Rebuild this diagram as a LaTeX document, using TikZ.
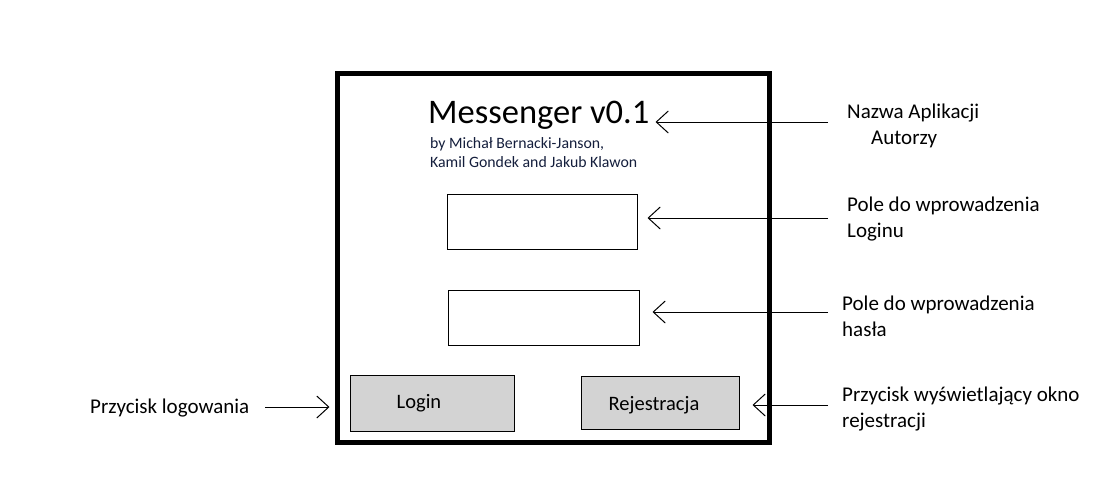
\documentclass[tikz,border=0pt]{standalone}
\usepackage{fontspec}
\setmainfont{Carlito}
\usepackage{xcolor}
\usepackage{tikz}
\usetikzlibrary{arrows.meta, positioning}
\definecolor{buttoncolor}{RGB}{211,211,211}
\definecolor{authorcolor}{RGB}{20,30,60}
\begin{document}
\begin{tikzpicture}[
    x=1pt, y=-1pt,
    field/.style={draw, line width=1pt, inner sep=0pt},
    button/.style={draw, line width=1pt, fill=buttoncolor, inner sep=0pt},
    btntext/.style={font=\fontsize{20.5}{26}\selectfont},
    note/.style={align=left, inner sep=0pt, anchor=base west, font=\fontsize{21}{26}\selectfont},
    arrow/.style={-{Straight Barb[length=12pt, width=22pt]}, line width=1pt}
]
    \useasboundingbox (0,0) rectangle (1108,488);

    % Application window
    \node[draw, line width=5pt, minimum width=432pt, minimum height=369pt, inner sep=0pt] (window) at (553.5,258) {};

    % Title and authors
    \node[anchor=base west, inner sep=0pt, font=\fontsize{34.5}{40}\selectfont] (title) at (428,123) {Messenger v0.1};
    \node[anchor=base west, align=left, inner sep=0pt, text=authorcolor, font=\fontsize{15.8}{19}\selectfont] (authors) at (430,167) {by Michał Bernacki-Janson,\\Kamil Gondek and Jakub Klawon};

    % Input fields
    \node[field, minimum width=190pt, minimum height=55pt] (loginfield) at (542,221.5) {};
    \node[field, minimum width=191pt, minimum height=55pt] (passfield) at (543.5,317.5) {};

    % Buttons
    \node[button, minimum width=164pt, minimum height=56pt, label={[btntext, xshift=-13pt]center:Login}] (loginbtn) at (432,403) {};
    \node[button, minimum width=158pt, minimum height=53pt, label={[btntext, xshift=-6pt, yshift=-3pt]center:Rejestracja}] (regbtn) at (660,402.5) {};

    % Descriptions
    \node[note] (namenote) at (847,144) {Nazwa Aplikacji\\\hspace*{24pt}Autorzy};
    \node[note] (loginnote) at (847,237) {Pole do wprowadzenia\\Loginu};
    \node[note] (passnote) at (842,336) {Pole do wprowadzenia\\hasła};
    \node[note] (regnote) at (842,427) {Przycisk wyświetlający okno\\rejestracji};
    \node[note] (loginbtnnote) at (90,413) {Przycisk logowania};

    % Arrow tails
    \coordinate (nametail) at (828,122);
    \coordinate (logintail) at (828,218);
    \coordinate (passtail) at (828,312);
    \coordinate (regtail) at (828,405);
    \coordinate (btntail) at (265,407);

    % Arrows
    \draw[arrow, shorten >=6pt] (nametail) -- (nametail -| title.east);
    \draw[arrow, shorten >=10pt] (logintail) -- (logintail -| loginfield.east);
    \draw[arrow, shorten >=13pt] (passtail) -- (passtail -| passfield.east);
    \draw[arrow, shorten >=13pt] (regtail) -- (regtail -| regbtn.east);
    \draw[arrow, shorten >=5.5pt] (btntail) -- (btntail -| window.west);
\end{tikzpicture}
\end{document}
